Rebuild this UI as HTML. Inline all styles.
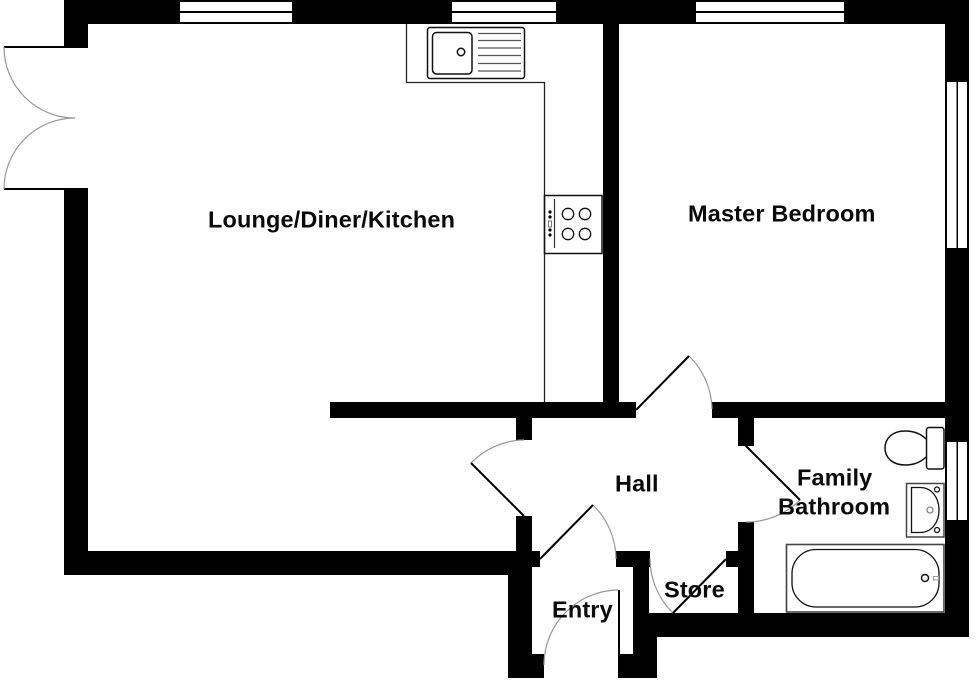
<!DOCTYPE html>
<html><head><meta charset="utf-8"><style>
html,body{margin:0;padding:0;background:#fff;width:976px;height:680px;overflow:hidden}
svg{display:block}
text{font-family:"Liberation Sans",Arial,sans-serif;font-weight:bold;font-size:23.5px;letter-spacing:.15px;fill:#0a0a0a}
</style></head><body>
<svg width="976" height="680" viewBox="0 0 976 680" xmlns="http://www.w3.org/2000/svg">
<rect width="976" height="680" fill="#fff"/>
<g fill="#000">
<rect x="64" y="0" width="905" height="24"/>
<rect x="64" y="0" width="24" height="48"/>
<rect x="64" y="188" width="24" height="387"/>
<rect x="64" y="551" width="468" height="24"/>
<rect x="516" y="551" width="24" height="16"/>
<rect x="508" y="574" width="24" height="104"/>
<rect x="508" y="654" width="36" height="24"/>
<rect x="618" y="654" width="39" height="24"/>
<rect x="633" y="551" width="16" height="103"/>
<rect x="616" y="551" width="34" height="16"/>
<rect x="633" y="613" width="336" height="24"/>
<rect x="633" y="613" width="24" height="65"/>
<rect x="516" y="516" width="16" height="40"/>
<rect x="516" y="418" width="16" height="22"/>
<rect x="330" y="402" width="306" height="16"/>
<rect x="712" y="402" width="234" height="16"/>
<rect x="603" y="24" width="16" height="378"/>
<rect x="738" y="418" width="16" height="28"/>
<rect x="738" y="522" width="16" height="91"/>
<rect x="726" y="551" width="12" height="16"/>
<rect x="945" y="0" width="24" height="637"/>
<rect x="4" y="46" width="60" height="2"/>
<rect x="4" y="188" width="60" height="2"/>
</g>
<g fill="#fff">
<rect x="180" y="2" width="112" height="9"/><rect x="180" y="13" width="112" height="9"/>
<rect x="452" y="2" width="104" height="9"/><rect x="452" y="13" width="104" height="9"/>
<rect x="696" y="2" width="148" height="9"/><rect x="696" y="13" width="148" height="9"/>
<rect x="947" y="82" width="9.5" height="166"/><rect x="958" y="82" width="9" height="166"/>
<rect x="947" y="442" width="9.5" height="78"/><rect x="958" y="442" width="9" height="78"/>
</g>
<g fill="none" stroke="#999" stroke-width="1.2">
<path d="M4,47 A71,71 0 0 0 75,118"/>
<path d="M4,189 A71,71 0 0 1 75,118"/>
<path d="M689,356 A76,76 0 0 1 712,409"/>
<path d="M471,463 A75,75 0 0 1 524,440"/>
<path d="M593,505 A76,76 0 0 1 616,559"/>
<path d="M618,590 A75,75 0 0 0 544,665"/>
<path d="M673,613 A76,76 0 0 1 650,559"/>
<path d="M800,500 A76,76 0 0 1 746,522"/>
</g>
<g stroke="#000" stroke-width="2" fill="none">
<path d="M636,410 L689,356"/>
<path d="M471,463 L524,516"/>
<path d="M540,559 L593,505"/>
<path d="M619,590 L619,654"/>
<path d="M726,559 L673,613"/>
<path d="M745,445 L800,500"/>
</g>
<g fill="none" stroke="#111" stroke-width="1.5">
<path d="M406.5,24 V82.5 H544.5 V402" stroke="#222" stroke-width="1.3"/>
<rect x="427.500" y="27.500" width="97" height="51" rx="2.500"/>
<rect x="432.500" y="32.500" width="39.500" height="41.500" rx="4"/>
<circle cx="461" cy="52" r="3.700"/>
<g stroke="#555" stroke-width="1.3"><path d="M478,33.500H521M478,40.500H521M478,48H521M478,55.500H521M478,63.500H521M478,71H521"/></g>
<rect x="544.500" y="195.500" width="57.500" height="58"/>
<path d="M554.500,199V248" stroke="#333" stroke-width="1.2"/>
<circle cx="568" cy="214" r="5.700" stroke-width="1.3"/><circle cx="585" cy="214" r="5.700" stroke-width="1.3"/>
<circle cx="568" cy="234" r="5.700" stroke-width="1.3"/><circle cx="585" cy="234" r="5.700" stroke-width="1.3"/>
<rect x="548.500" y="221" width="3" height="6" stroke="#777" stroke-width="1"/>
<path d="M926,439 Q918,431 905,431 C893,431 885,438 885,448 C885,458 893,465 905,465 Q918,465 926,457"/>
<rect x="926.500" y="427.500" width="17.500" height="41.500" rx="2.500"/>
<rect x="906.500" y="483.500" width="37.500" height="53.500" stroke="#444" stroke-width="1.500"/>
<path d="M911.500,487.500 H920 C932,487.500 939,498 939,510 C939,522 932,532.500 920,532.500 H911.500 Z" stroke-width="1.300"/>
<circle cx="937" cy="489.500" r="2.500" stroke-width="1.300"/><circle cx="937" cy="530" r="2.500" stroke-width="1.300"/>
<circle cx="930" cy="510" r="3" stroke="#888" stroke-width="1.300"/>
<rect x="786.500" y="544.500" width="157.500" height="67.500" stroke="#444" stroke-width="1.600"/>
<rect x="792" y="549.500" width="147" height="57.500" rx="24" ry="24" stroke-width="1.300"/>
<circle cx="925" cy="578" r="3.500"/>
<rect x="933.500" y="576.500" width="5" height="3.500" stroke="#999" stroke-width="1"/>
</g>
<g fill="#000"><circle cx="550" cy="212" r="1.6"/><circle cx="550" cy="217" r="1.6"/><circle cx="550" cy="230" r="1.6"/><circle cx="550" cy="235" r="1.6"/></g>
<text x="208" y="227.5">Lounge/Diner/Kitchen</text>
<text x="688" y="221.5">Master Bedroom</text>
<text x="615" y="491.5">Hall</text>
<text x="797" y="485.5">Family</text>
<text x="778" y="514.500">Bathroom</text>
<text x="664" y="597.500">Store</text>
<text x="552" y="617.500">Entry</text>
</svg>
</body></html>
